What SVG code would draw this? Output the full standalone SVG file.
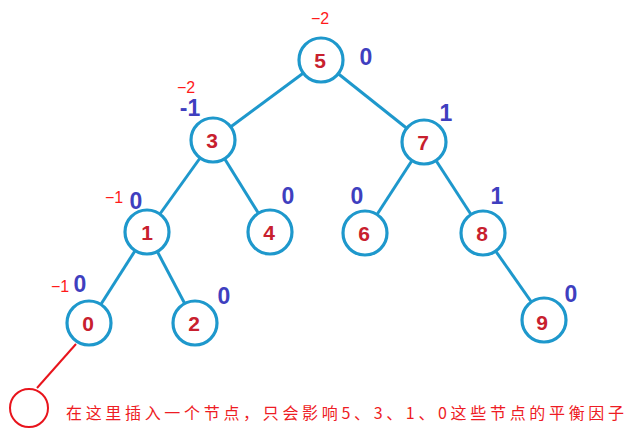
<svg xmlns="http://www.w3.org/2000/svg" width="634" height="436" viewBox="0 0 634 436">
<style>
.edge{stroke:#1e98cc;stroke-width:3;fill:none}
.node circle{fill:#fff;stroke:#1e98cc;stroke-width:3.2}
.val{font-family:"Liberation Sans",Arial,sans-serif;font-weight:bold;font-size:21px;fill:#c8202e;text-anchor:middle}
.bf{font-family:"Liberation Sans",Arial,sans-serif;font-weight:bold;font-size:23px;fill:#3f3fbf;text-anchor:middle}
.old{font-family:"Liberation Sans",Arial,sans-serif;font-size:16px;fill:#ff1a1a;text-anchor:middle}
.note{font-family:"Noto Sans CJK SC","Liberation Sans",sans-serif;font-size:16px;fill:#ee1c24}
</style>
<rect width="634" height="436" fill="#fff"/>
<g id="connectors">
<line class="edge" x1="321" y1="60" x2="213" y2="140"/>
<line class="edge" x1="321" y1="60" x2="424" y2="142"/>
<line class="edge" x1="213" y1="140" x2="147" y2="232"/>
<line class="edge" x1="213" y1="140" x2="270" y2="232"/>
<line class="edge" x1="424" y1="142" x2="365" y2="233"/>
<line class="edge" x1="424" y1="142" x2="483" y2="233"/>
<line class="edge" x1="147" y1="232" x2="89" y2="323"/>
<line class="edge" x1="147" y1="232" x2="195" y2="323"/>
<line class="edge" x1="483" y1="233" x2="544" y2="320"/>
<line x1="76" y1="344" x2="37" y2="388" stroke="#e8141c" stroke-width="2"/>
</g>
<g id="n5" class="node"><circle cx="321" cy="60" r="22"/><text class="val" x="320" y="68">5</text></g>
<g id="n3" class="node"><circle cx="213" cy="140" r="22"/><text class="val" x="212" y="148">3</text></g>
<g id="n7" class="node"><circle cx="424" cy="142" r="22"/><text class="val" x="423" y="150">7</text></g>
<g id="n1" class="node"><circle cx="147" cy="232" r="22"/><text class="val" x="147" y="240">1</text></g>
<g id="n4" class="node"><circle cx="270" cy="232" r="22"/><text class="val" x="269" y="240">4</text></g>
<g id="n6" class="node"><circle cx="365" cy="233" r="22"/><text class="val" x="364" y="241">6</text></g>
<g id="n8" class="node"><circle cx="483" cy="233" r="22"/><text class="val" x="482" y="241">8</text></g>
<g id="n0" class="node"><circle cx="89" cy="323" r="22"/><text class="val" x="88" y="331">0</text></g>
<g id="n2" class="node"><circle cx="195" cy="323" r="22"/><text class="val" x="194" y="331">2</text></g>
<g id="n9" class="node"><circle cx="544" cy="320" r="22"/><text class="val" x="542" y="330">9</text></g>
<g id="factors">
<text class="bf" x="366" y="65">0</text>
<text class="bf" x="190" y="116">-1</text>
<text class="bf" x="446" y="121">1</text>
<text class="bf" x="136" y="209">0</text>
<text class="bf" x="288" y="204">0</text>
<text class="bf" x="357" y="204">0</text>
<text class="bf" x="497" y="204">1</text>
<text class="bf" x="80" y="292">0</text>
<text class="bf" x="224" y="304">0</text>
<text class="bf" x="571" y="302">0</text>
<text class="old" x="320" y="24">−2</text>
<text class="old" x="186" y="93">−2</text>
<text class="old" x="114" y="203">−1</text>
<text class="old" x="60" y="292">−1</text>
</g>
<g id="insert"><circle cx="29" cy="408" r="19" fill="none" stroke="#e8141c" stroke-width="2"/></g>
<text class="note" x="66" y="419" textLength="558" lengthAdjust="spacing">在这里插入一个节点，只会影响5、3、1、0这些节点的平衡因子</text>
</svg>
